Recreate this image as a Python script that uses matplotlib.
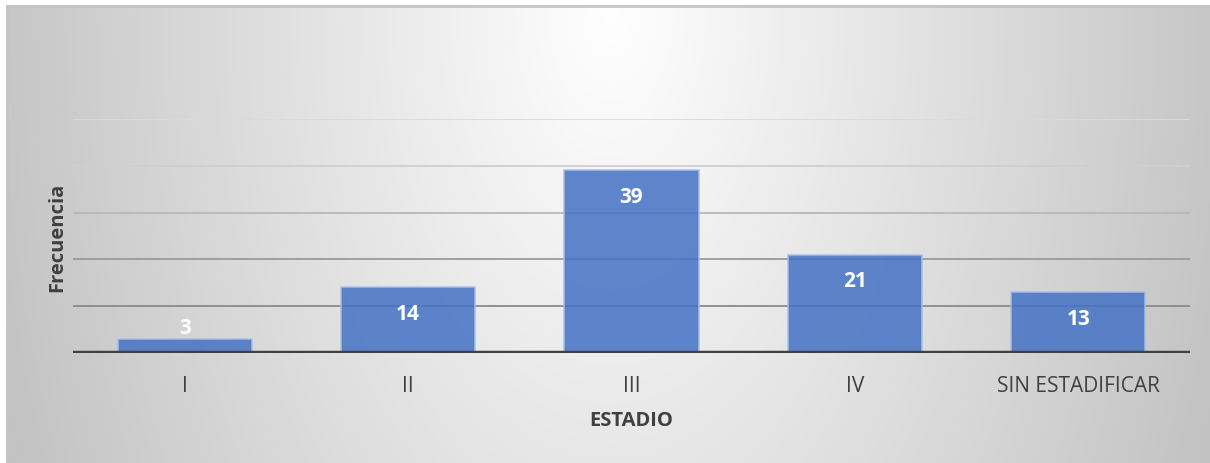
import numpy as np
import matplotlib
matplotlib.use('Agg')
import matplotlib.pyplot as plt

# datos del grafico
estadios = ['I', 'II', 'III', 'IV', 'SIN ESTADIFICAR']
frecuencia = [3, 14, 39, 21, 13]
niveles = [10, 20, 30, 40, 50]
color_grid = ['#8a8a8a', '#9a9a9a', '#b8b8b8', '#cfcfcf', '#dadada']

plt.rcParams['font.family'] = ['Open Sans', 'DejaVu Sans']

W, H = 1210, 464
fig = plt.figure(figsize=(W / 100, H / 100), dpi=100)
fig.patch.set_facecolor('white')

# fondo con degradado radial (blanco arriba al centro, gris en bordes)
bg = fig.add_axes([6 / W, 0, (W - 6) / W, (H - 6) / H], zorder=0)
xx, yy = np.meshgrid(np.arange(W - 6), np.arange(H - 6))
u = (xx - 604) / 620.0
w = yy / 1100.0
r = np.clip(np.sqrt(u ** 2 + w ** 2), 0, 1.2)
g = np.clip(255 - 58 * r, 0, 255) / 255.0
bg.imshow(np.dstack([g, g, g]), aspect='auto', interpolation='bilinear')
bg.axhline(0, color='#c4c4c4', lw=2)
bg.axvline(0, color='#c4c4c4', lw=2)
bg.set_axis_off()

ax = fig.add_axes([73 / W, (H - 354) / H, (1190 - 73) / W, (354 - 120) / H], zorder=1)
ax.patch.set_alpha(0)

x = np.arange(len(estadios))
for nv, c in zip(niveles, color_grid):
    ax.axhline(nv, color=c, lw=1.3, zorder=1)

ax.bar(x, frecuencia, width=0.6, color='#4472C4', alpha=0.85,
       edgecolor='#a9c0e8', linewidth=1.2, zorder=2)
ax.axhline(0, color='#404040', lw=3.2, zorder=3)

for xi, v in zip(x, frecuencia):
    ax.text(xi, max(v - 5.6, 5.4), str(v), ha='center', va='center',
            color='white', fontsize=15, fontweight='bold', zorder=4)

ax.set_xlim(-0.5, 4.5)
ax.set_ylim(0, 50)
ax.set_xticks(x)
ax.set_xticklabels(estadios, fontsize=15, color='#404040')
ax.set_yticks([])
ax.tick_params(axis='x', length=0, pad=16)
for s in ax.spines.values():
    s.set_visible(False)

ax.set_xlabel('ESTADIO', fontsize=14.5, fontweight='bold', color='#404040', labelpad=10)
ax.set_ylabel('Frecuencia', fontsize=14.5, fontweight='bold', color='#404040', labelpad=4)

fig.savefig('out.png', dpi=100)
